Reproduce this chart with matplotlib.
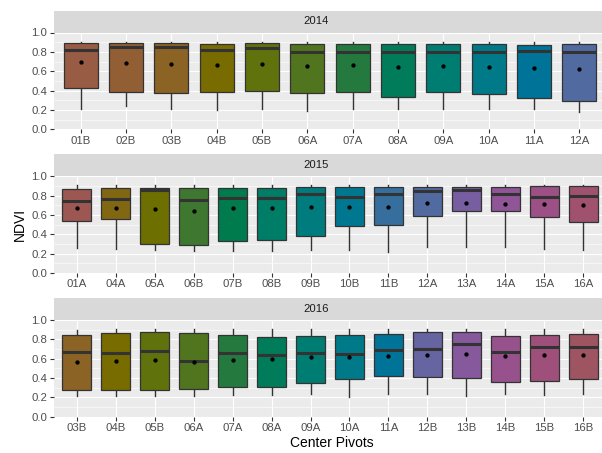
import numpy as np
import matplotlib
matplotlib.use("Agg")
import matplotlib.pyplot as plt

plt.rcParams['font.family'] = ['Liberation Sans', 'DejaVu Sans']

# NDVI box statistics per center pivot and year
years = ['2014', '2015', '2016']

pivots_2014 = ['01B', '02B', '03B', '04B', '05B', '06A', '07A', '08A', '09A', '10A', '11A', '12A']
q1_2014 = [0.431, 0.386, 0.372, 0.383, 0.390, 0.379, 0.383, 0.331, 0.383, 0.359, 0.324, 0.290]
med_2014 = [0.821, 0.845, 0.845, 0.814, 0.838, 0.797, 0.803, 0.797, 0.797, 0.803, 0.810, 0.803]
q3_2014 = [0.890, 0.890, 0.890, 0.883, 0.893, 0.879, 0.886, 0.879, 0.879, 0.879, 0.866, 0.879]
lo_2014 = [0.214, 0.241, 0.214, 0.203, 0.214, 0.193, 0.214, 0.210, 0.214, 0.207, 0.207, 0.183]
hi_2014 = [0.905, 0.905, 0.905, 0.905, 0.905, 0.903, 0.903, 0.903, 0.903, 0.903, 0.903, 0.903]
mean_2014 = [0.690, 0.686, 0.676, 0.659, 0.679, 0.655, 0.662, 0.641, 0.655, 0.648, 0.631, 0.621]

pivots_2015 = ['01A', '04A', '05A', '06B', '07B', '08B', '09B', '10B', '11B', '12A', '13A', '14A', '15A', '16A']
q1_2015 = [0.534, 0.562, 0.300, 0.293, 0.331, 0.338, 0.386, 0.483, 0.500, 0.586, 0.638, 0.641, 0.579, 0.524]
med_2015 = [0.745, 0.762, 0.862, 0.759, 0.776, 0.779, 0.814, 0.790, 0.821, 0.852, 0.855, 0.814, 0.786, 0.793]
q3_2015 = [0.869, 0.883, 0.883, 0.883, 0.883, 0.883, 0.890, 0.890, 0.890, 0.890, 0.890, 0.890, 0.897, 0.897]
lo_2015 = [0.259, 0.245, 0.234, 0.231, 0.228, 0.228, 0.234, 0.234, 0.214, 0.272, 0.272, 0.269, 0.252, 0.234]
hi_2015 = [0.905, 0.910, 0.912, 0.912, 0.914, 0.914, 0.914, 0.914, 0.914, 0.914, 0.914, 0.914, 0.914, 0.914]
mean_2015 = [0.669, 0.676, 0.659, 0.641, 0.666, 0.666, 0.679, 0.679, 0.686, 0.721, 0.728, 0.714, 0.717, 0.703]

pivots_2016 = ['03B', '04B', '05B', '06A', '07A', '08A', '09A', '10A', '11A', '12B', '13B', '14B', '15B', '16B']
q1_2016 = [0.276, 0.276, 0.276, 0.283, 0.303, 0.310, 0.345, 0.386, 0.421, 0.410, 0.397, 0.355, 0.366, 0.390]
med_2016 = [0.669, 0.655, 0.679, 0.572, 0.662, 0.634, 0.655, 0.645, 0.690, 0.700, 0.748, 0.672, 0.724, 0.724]
q3_2016 = [0.848, 0.869, 0.872, 0.862, 0.845, 0.821, 0.834, 0.848, 0.855, 0.872, 0.872, 0.834, 0.848, 0.859]
lo_2016 = [0.217, 0.217, 0.214, 0.210, 0.224, 0.224, 0.231, 0.207, 0.234, 0.231, 0.217, 0.238, 0.224, 0.234]
hi_2016 = [0.900, 0.903, 0.903, 0.903, 0.903, 0.903, 0.903, 0.903, 0.905, 0.905, 0.905, 0.903, 0.903, 0.903]
mean_2016 = [0.566, 0.572, 0.583, 0.562, 0.586, 0.600, 0.621, 0.621, 0.628, 0.634, 0.645, 0.624, 0.641, 0.634]

panels = [
    (pivots_2014, q1_2014, med_2014, q3_2014, lo_2014, hi_2014, mean_2014),
    (pivots_2015, q1_2015, med_2015, q3_2015, lo_2015, hi_2015, mean_2015),
    (pivots_2016, q1_2016, med_2016, q3_2016, lo_2016, hi_2016, mean_2016),
]


def hcl_to_hex(h, c, l):
    # polar CIE-Luv -> sRGB (D65)
    hr = np.deg2rad(h)
    u, v = c * np.cos(hr), c * np.sin(hr)
    Y = ((l + 16) / 116) ** 3 if l > 8 else l / 903.3
    un, vn = 0.1978398, 0.4683363
    up = u / (13 * l) + un
    vp = v / (13 * l) + vn
    X = 9 * Y * up / (4 * vp)
    Z = -X / 3 - 5 * Y + 3 * Y / vp
    M = np.array([[3.240479, -1.537150, -0.498535],
                  [-0.969256, 1.875992, 0.041556],
                  [0.055648, -0.204043, 1.057311]])
    rgb = M @ np.array([X, Y, Z])
    rgb = np.where(rgb <= 0.0031308, 12.92 * rgb, 1.055 * np.clip(rgb, 0, None) ** (1 / 2.4) - 0.055)
    rgb = np.clip(rgb, 0, 1)
    return '#%02x%02x%02x' % tuple(int(round(x * 255)) for x in rgb)


# one hue per pivot over all years (like scale_fill_hue(c=50, l=45))
all_pivots = sorted(set(pivots_2014) | set(pivots_2015) | set(pivots_2016))
n_lev = len(all_pivots)
fill_of = {p: hcl_to_hex(15 + 360 / n_lev * i, 50, 45) for i, p in enumerate(all_pivots)}

W, H = 602, 453
fig = plt.figure(figsize=(W / 100, H / 100), dpi=100)

left_px, right_px = 53.5, 606.5
step = 143.7

for i, (names, q1, med, q3, lo, hi, mn) in enumerate(panels):
    top_px = 32.5 + step * i
    bot_px = 129.2 + step * i
    ax = fig.add_axes([left_px / W, 1 - bot_px / H, (right_px - left_px) / W, (bot_px - top_px) / H])

    # strip with the year
    sax = fig.add_axes([left_px / W, 1 - top_px / H, (right_px - left_px) / W, 22 / H])
    sax.set_facecolor('#D9D9D9')
    sax.set_xticks([])
    sax.set_yticks([])
    for s in sax.spines.values():
        s.set_visible(False)
    fig.text(316 / W, 1 - (top_px - 11) / H, years[i],
             ha='center', va='center', fontsize=8.1, color='#1A1A1A')

    ax.set_facecolor('#EBEBEB')
    for s in ax.spines.values():
        s.set_visible(False)

    n = len(names)
    pos = np.arange(n)
    stats = []
    for k in range(n):
        stats.append({'label': names[k], 'q1': q1[k], 'med': med[k], 'q3': q3[k],
                      'whislo': lo[k], 'whishi': hi[k], 'mean': mn[k]})

    bp = ax.bxp(stats, positions=pos, widths=0.75, patch_artist=True,
                showmeans=True, showcaps=False, showfliers=False,
                boxprops=dict(edgecolor='#333333', linewidth=0.9),
                whiskerprops=dict(color='#333333', linewidth=1.0),
                medianprops=dict(color='#333333', linewidth=2.2, solid_capstyle='butt'),
                meanprops=dict(marker='o', markerfacecolor='black', markeredgecolor='black',
                               markersize=2.1))
    for patch, name in zip(bp['boxes'], names):
        patch.set_facecolor(fill_of[name])
        patch.set_zorder(3)
    for ln in bp['medians']:
        ln.set_zorder(4)
    for ln in bp['means']:
        ln.set_zorder(5)

    ax.set_xlim(-0.6, n - 0.4)
    ax.set_ylim(0, 1.0)
    ax.set_xticks(pos)
    ax.set_xticklabels(names)
    ax.set_yticks(np.arange(0, 1.01, 0.2))
    ax.set_yticklabels(['%.1f' % t for t in np.arange(0, 1.01, 0.2)])
    ax.set_yticks(np.arange(0.1, 1.0, 0.2), minor=True)
    ax.grid(True, which='major', color='white', linewidth=0.85, zorder=0)
    ax.grid(True, which='minor', axis='y', color='white', linewidth=0.4, zorder=0)
    ax.set_axisbelow(True)
    ax.tick_params(axis='both', which='major', length=2.6, width=0.8, color='#333333',
                   labelcolor='#4D4D4D', labelsize=8.2, pad=2)
    ax.tick_params(axis='both', which='minor', length=0)

fig.text(20 / W, 1 - 224 / H, 'NDVI', rotation=90, ha='center', va='center', fontsize=10, color='black')
fig.text(332 / W, 1 - 443 / H, 'Center Pivots', ha='center', va='center', fontsize=10, color='black')

plt.savefig('out.png', dpi=100)
